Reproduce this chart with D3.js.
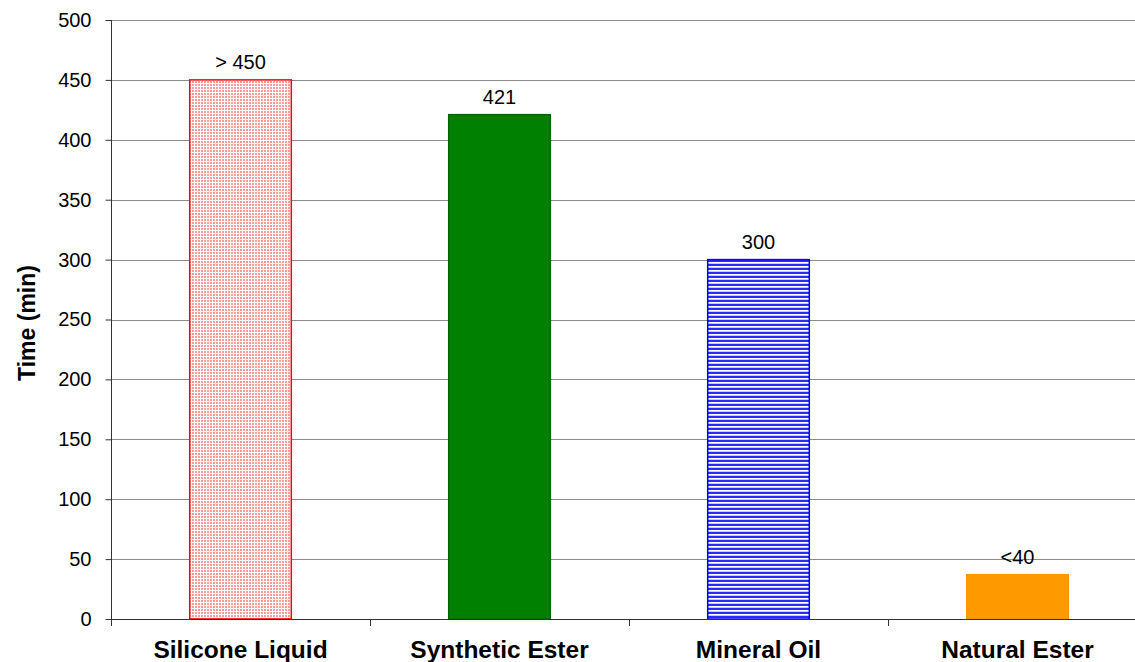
<!DOCTYPE html>
<html>
<head>
<meta charset="utf-8">
<script src="https://cdn.jsdelivr.net/npm/d3@7"></script>
<style>
  html, body { margin: 0; padding: 0; background: #fff; }
  svg { display: block; font-family: "Liberation Sans", Arial, sans-serif; }
</style>
</head>
<body>
<svg id="chart" width="1135" height="662"></svg>
<script>
// Fluid samples and their measured times
const categories = ["Silicone Liquid", "Synthetic Ester", "Mineral Oil", "Natural Ester"];
const values = [450, 421, 300, 37];
const valueLabels = ["> 450", "421", "300", "<40"];
const yTicks = [0, 50, 100, 150, 200, 250, 300, 350, 400, 450, 500];

const svg = d3.select("#chart");
const plotLeft = 111, plotRight = 1147, plotTop = 20, plotBottom = 619;

const x = d3.scaleBand().domain(categories).range([plotLeft, plotRight])
  .paddingInner(0.6).paddingOuter(0.3);
const y = d3.scaleLinear().domain([0, 500]).range([plotBottom, plotTop]);

// Fill patterns
const defs = svg.append("defs");
const dots = defs.append("pattern").attr("id", "pinkDots")
  .attr("patternUnits", "userSpaceOnUse").attr("width", 3).attr("height", 3);
dots.append("rect").attr("width", 3).attr("height", 3).attr("fill", "#ffffff");
dots.append("rect").attr("width", 2).attr("height", 2).attr("fill", "#ff9a9a");

const stripes = defs.append("pattern").attr("id", "blueStripes")
  .attr("patternUnits", "userSpaceOnUse").attr("width", 4).attr("height", 4);
stripes.append("rect").attr("width", 4).attr("height", 4).attr("fill", "#ffffff");
stripes.append("rect").attr("y", 0).attr("width", 4).attr("height", 2).attr("fill", "#2a2aff");
stripes.append("rect").attr("y", 3).attr("width", 4).attr("height", 1).attr("fill", "#c8c8ff");

const fills = ["url(#pinkDots)", "#008000", "url(#blueStripes)", "#ff9900"];
const strokes = ["#ff0000", "#006600", "#0000ff", "#ff9900"];

// Horizontal gridlines
svg.append("g").selectAll("line").data(yTicks.filter(d => d > 0)).join("line")
  .attr("x1", plotLeft).attr("x2", plotRight)
  .attr("y1", d => Math.round(y(d)) + 0.5).attr("y2", d => Math.round(y(d)) + 0.5)
  .attr("stroke", "#8c8c8c").attr("stroke-width", 1);

// Bars
svg.append("g").selectAll("rect").data(categories).join("rect")
  .attr("x", d => x(d) + 1)
  .attr("y", (d, i) => y(values[i]))
  .attr("width", x.bandwidth() - 2)
  .attr("height", (d, i) => plotBottom - y(values[i]))
  .attr("fill", (d, i) => fills[i])
  .attr("stroke", (d, i) => strokes[i])
  .attr("stroke-width", 1.5);

// Value labels
svg.append("g").selectAll("text").data(categories).join("text")
  .attr("x", d => x(d) + x.bandwidth() / 2)
  .attr("y", (d, i) => y(values[i]) - 11)
  .attr("text-anchor", "middle")
  .attr("font-size", 20)
  .attr("fill", "#000")
  .text((d, i) => valueLabels[i]);

// Y axis
const yAxis = d3.axisLeft(y).tickValues(yTicks).tickSize(6).tickPadding(14);
const yg = svg.append("g").attr("transform", `translate(${plotLeft + 0.5},0)`).call(yAxis);
yg.select(".domain").attr("stroke", "#333").attr("d", `M0,${plotTop}V${plotBottom}`);
yg.selectAll(".tick line").attr("stroke", "#333");
yg.selectAll(".tick text").attr("font-size", 20).attr("fill", "#000")
  .attr("font-family", "'Liberation Sans', Arial, sans-serif");

// X axis baseline with ticks between categories
const xg = svg.append("g");
xg.append("line").attr("x1", plotLeft).attr("x2", plotRight)
  .attr("y1", plotBottom + 0.5).attr("y2", plotBottom + 0.5).attr("stroke", "#333");
const step = x.step();
xg.selectAll("line.sep").data(d3.range(categories.length + 1)).join("line")
  .attr("class", "sep")
  .attr("x1", i => Math.round(plotLeft + i * step) + 0.5)
  .attr("x2", i => Math.round(plotLeft + i * step) + 0.5)
  .attr("y1", plotBottom).attr("y2", plotBottom + 7)
  .attr("stroke", "#333");
xg.selectAll("text").data(categories).join("text")
  .attr("x", d => x(d) + x.bandwidth() / 2)
  .attr("y", 658)
  .attr("text-anchor", "middle")
  .attr("font-size", 24.5).attr("font-weight", "bold")
  .attr("fill", "#000")
  .text(d => d);

// Y axis title
svg.append("text")
  .attr("transform", "translate(35,323) rotate(-90)")
  .attr("text-anchor", "middle")
  .attr("font-size", 23).attr("font-weight", "bold")
  .text("Time (min)");
</script>
</body>
</html>
